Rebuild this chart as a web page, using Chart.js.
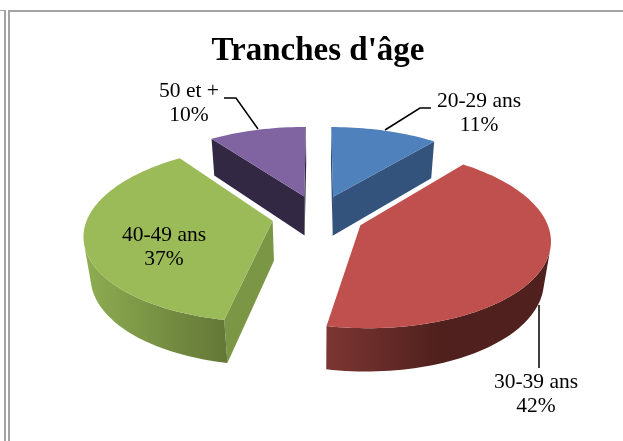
<!DOCTYPE html>
<html>
<head>
<meta charset="utf-8">
<style>
  html, body { margin: 0; padding: 0; background: #fff; overflow: hidden; }
  #wrap { position: relative; width: 623px; height: 441px; }
  canvas { position: absolute; left: 0; top: 0; }
  .rule { position: absolute; background: #a3a3a3; }
</style>
<script src="https://cdn.jsdelivr.net/npm/chart.js@4"></script>
</head>
<body>
<div id="wrap">
  <canvas id="myChart1" width="623" height="441"></canvas>
  <div class="rule" style="left:0;top:10px;width:6px;height:1px"></div>
  <div class="rule" style="left:4px;top:10px;width:2px;height:431px"></div>
  <div class="rule" style="left:8px;top:10px;width:2px;height:431px"></div>
  <div class="rule" style="left:8px;top:10px;width:615px;height:2px"></div>
</div>
<script>
const categories = ['20-29 ans', '30-39 ans', '40-49 ans', '50 et +'];
const shares = [11, 42, 37, 10];

const topColors = ['#4f81bd', '#c0504d', '#9bbb59', '#8064a2'];
const sideColors = ['#34537c', '#7c3532', '#7b9745', '#332843'];
// wall shading, left to right on screen
const wallStops = [
  [333, '#34537c', 440, '#2c4669'],
  [327, '#7c3633', 440, '#4f201d'],
  [88, '#8dac51', 226, '#637737'],
  [214, '#332843', 306, '#332843'],
];
// centre of each label, first line
const labelX = [479, 536, 164, 189];
const labelY = [101, 382, 235, 91];
const leaders = [
  [[385, 130], [420, 108], [431, 108]],
  [[539, 305], [539, 368]],
  null,
  [[224, 98], [236, 98], [258, 129]],
];

// projection of the tilted pie, fitted on the picture
const cam = { cx: 318, cy: 216, rx: 184.5, ry: 85, persp: 0.146, explode: 0.25, depth: 41, zPersp: 0.03 };

function project(u, v, z) {
  const w = 1 + cam.persp * v + cam.zPersp * z;
  return [cam.cx + cam.rx * u / w, cam.cy - (cam.ry * v - cam.depth * z) / w];
}

// outline of one slice in the pie plane, angles clockwise from 12 o'clock
function outline(arc) {
  const a0 = arc.startAngle + Math.PI / 2;
  const a1 = arc.endAngle + Math.PI / 2;
  const mid = (a0 + a1) / 2;
  const ox = cam.explode * Math.sin(mid);
  const oy = cam.explode * Math.cos(mid);
  const pts = [[ox, oy]];
  const steps = Math.ceil((a1 - a0) / 0.03);
  for (let i = 0; i <= steps; i++) {
    const a = a0 + (a1 - a0) * i / steps;
    pts.push([ox + Math.sin(a), oy + Math.cos(a)]);
  }
  return pts;
}

function fillPoly(ctx, pts, color) {
  ctx.beginPath();
  pts.forEach((p, i) => i ? ctx.lineTo(p[0], p[1]) : ctx.moveTo(p[0], p[1]));
  ctx.closePath();
  ctx.fillStyle = color;
  ctx.fill();
}

function signedArea(q) {
  let s = 0;
  q.forEach((p, i) => {
    const n = q[(i + 1) % q.length];
    s += p[0] * n[1] - n[0] * p[1];
  });
  return s;
}

function wallQuad(p, q) {
  return [project(p[0], p[1], 0), project(q[0], q[1], 0), project(q[0], q[1], 1), project(p[0], p[1], 1)];
}

// one polygon for the visible part of the rim, so no seams
function drawRim(ctx, pts, color) {
  let run = [];
  const flush = () => {
    if (run.length > 1) {
      const top = run.map(p => project(p[0], p[1], 0));
      const bottom = run.map(p => project(p[0], p[1], 1)).reverse();
      fillPoly(ctx, top.concat(bottom), color);
    }
    run = [];
  };
  for (let k = 1; k < pts.length - 1; k++) {
    if (signedArea(wallQuad(pts[k], pts[k + 1])) < 0) {
      if (!run.length) run.push(pts[k]);
      run.push(pts[k + 1]);
    } else {
      flush();
    }
  }
  flush();
}

const pie3d = {
  id: 'pie3d',
  beforeDatasetsDraw(chart) {
    const ctx = chart.ctx;
    const arcs = chart.getDatasetMeta(0).data;
    ctx.save();
    // back slices first
    [3, 0, 2, 1].forEach(i => {
      const pts = outline(arcs[i]);
      const n = pts.length;
      const st = wallStops[i];
      const grad = ctx.createLinearGradient(st[0], 0, st[2], 0);
      grad.addColorStop(0, st[1]);
      grad.addColorStop(1, st[3]);
      [[0, 1], [n - 1, 0]].forEach(e => {
        const quad = wallQuad(pts[e[0]], pts[e[1]]);
        if (signedArea(quad) < 0) fillPoly(ctx, quad, sideColors[i]);
      });
      drawRim(ctx, pts, grad);
      fillPoly(ctx, pts.map(p => project(p[0], p[1], 0)), topColors[i]);
    });
    ctx.restore();
    return false;
  },
  afterDraw(chart) {
    const ctx = chart.ctx;
    ctx.save();
    ctx.strokeStyle = '#000';
    ctx.lineWidth = 1.5;
    leaders.forEach(line => {
      if (!line) return;
      ctx.beginPath();
      line.forEach((p, i) => i ? ctx.lineTo(p[0], p[1]) : ctx.moveTo(p[0], p[1]));
      ctx.stroke();
    });
    ctx.fillStyle = '#000';
    ctx.font = '21.5px "Liberation Serif"';
    ctx.textAlign = 'center';
    ctx.textBaseline = 'middle';
    categories.forEach((c, i) => {
      ctx.fillText(c, labelX[i], labelY[i]);
      ctx.fillText(shares[i] + '%', labelX[i], labelY[i] + 24.5);
    });
    ctx.restore();
  }
};

const ctx1 = document.getElementById('myChart1').getContext('2d');
const chart1 = new Chart(ctx1, {
  type: 'pie',
  data: {
    labels: categories,
    datasets: [{
      data: shares,
      backgroundColor: topColors,
      borderWidth: 0
    }]
  },
  options: {
    responsive: false,
    animation: false,
    layout: { padding: { left: 13 } },
    plugins: {
      legend: { display: false },
      tooltip: { enabled: false },
      title: {
        display: true,
        text: "Tranches d'âge",
        color: '#000',
        font: { family: '"Liberation Serif"', size: 33, weight: 'bold' },
        padding: { top: 32, bottom: 10 }
      }
    }
  },
  plugins: [pie3d]
});
</script>
</body>
</html>
